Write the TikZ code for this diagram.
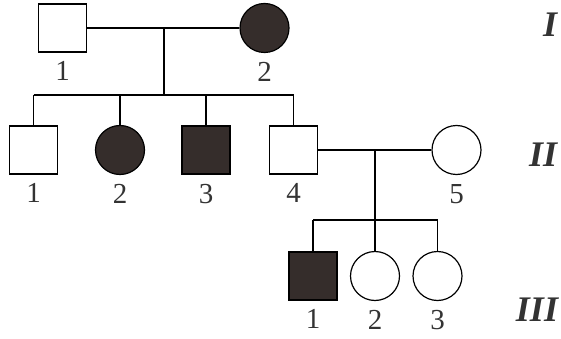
\documentclass[tikz,border=0pt]{standalone}
\usepackage{fontspec}
\setmainfont{Liberation Serif}
\usetikzlibrary{positioning}
\definecolor{sick}{HTML}{352D2B}
\tikzset{
  line/.style={line width=1.2pt},
  male/.style={draw, line width=1.2pt, minimum size=48pt, inner sep=0pt},
  female/.style={draw, circle, line width=1.2pt, minimum size=49pt, inner sep=0pt},
  ill/.style={fill=sick},
  num/.style={font=\fontsize{29}{29}\selectfont, text=black!80, inner sep=0pt},
  gen/.style={font=\fontsize{36}{36}\selectfont\bfseries\itshape, text=black!80, inner sep=0pt},
  lab/.style={label={[num, label distance=9pt]below:#1}}
}
\begin{document}
\begin{tikzpicture}[x=1pt, y=-1pt]
    \useasboundingbox (0,0) rectangle (561,339);
    % generation I
    \node[male, lab=1] (I1) at (62.5,28) {};
    \node[female, ill, lab=2] (I2) at (264.5,28) {};
    \draw[line] (I1) -- (I2);
    \coordinate (m1) at (164,28);
    \coordinate (s1) at (164,95);
    \draw[line] (m1) -- (s1);
    % generation II
    \node[male, lab=1] (II1) at (33.5,150) {};
    \node[female, ill, lab=2] (II2) at (120,150) {};
    \node[male, ill, lab=3] (II3) at (206,150) {};
    \node[male, lab=4] (II4) at (293.5,150) {};
    \node[female, lab=5] (II5) at (456.5,150) {};
    \draw[line] (II1 |- s1) -- (II4 |- s1);
    \foreach \k in {1,...,4} {
      \draw[line] (II\k |- s1) -- (II\k) ;
    }
    \draw[line] (II4) -- (II5);
    \coordinate (m2) at (375,150);
    \coordinate (s2) at (375,220);
    \draw[line] (m2) -- (s2);
    % generation III
    \node[male, ill, lab=1] (III1) at (313,276) {};
    \node[female, lab=2] (III2) at (375,276) {};
    \node[female, lab=3] (III3) at (437.5,276) {};
    \draw[line] (III1 |- s2) -- (III3 |- s2);
    \foreach \k in {1,2,3} {
      \draw[line] (III\k |- s2) -- (III\k) ;
    }
    % generation numerals
    \node[gen] (gI) at (550,25) {I};
    \node[gen] (gII) at (543,155) {II};
    \node[gen] (gIII) at (537,310) {III};
\end{tikzpicture}
\end{document}
